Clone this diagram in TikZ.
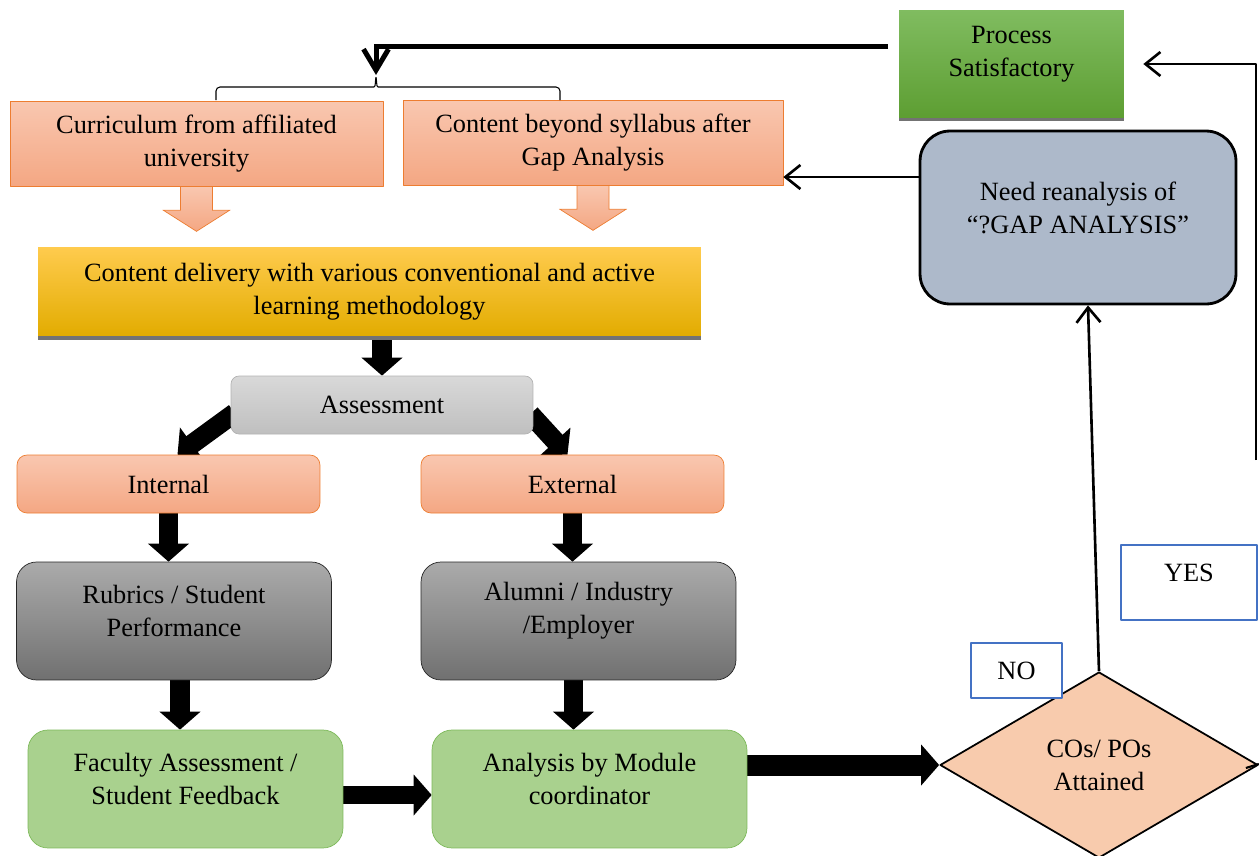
\documentclass[tikz,border=0pt]{standalone}
\usepackage{fontspec}
\setmainfont{Liberation Serif}
\usetikzlibrary{shapes.geometric,arrows.meta,calc,shadows,backgrounds}
\definecolor{orline}{HTML}{ED7D31}
\definecolor{ortop}{HTML}{F9C7B0}
\definecolor{orbot}{HTML}{F4A783}
\definecolor{yeltop}{HTML}{FFCB4E}
\definecolor{yelbot}{HTML}{E2AC00}
\definecolor{grntop}{HTML}{80BC60}
\definecolor{grnbot}{HTML}{5D9E32}
\definecolor{lgrn}{HTML}{A9D18E}
\definecolor{lgrnline}{HTML}{7DB95A}
\definecolor{bluegrey}{HTML}{ADB9CA}
\definecolor{peach}{HTML}{F8CBAD}
\definecolor{boxblue}{HTML}{4472C4}
\begin{document}
\begin{tikzpicture}[x=0.02cm,y=-0.02cm,line join=round,font=\fontsize{15}{18.8}\selectfont,
    orbox/.style={draw=orline,top color=ortop,bottom color=orbot,minimum height=1.7cm,align=center},
    orround/.style={orbox,rounded corners=0.2cm,minimum width=6.06cm,minimum height=1.16cm},
    darkbox/.style={draw=black!85,top color=black!33,bottom color=black!56,rounded corners=0.4cm,minimum width=6.3cm,minimum height=2.36cm},
    greenbox/.style={draw=lgrnline,fill=lgrn,rounded corners=0.4cm,minimum width=6.3cm,minimum height=2.36cm},
    tagbox/.style={draw=boxblue,line width=1.2pt,fill=white},
    txt/.style={label={[align=center,yshift=0.2cm]center:#1}},
    blk/.style={line width=0.39cm,-{Triangle[width=0.8cm,length=0.36cm]}},
    thinarr/.style={line width=1.5pt,-{Straight Barb[length=0.3cm,width=0.48cm]}},
    orarr/.style={draw=orline,top color=ortop,bottom color=orbot}]
\useasboundingbox (0,0) rectangle (1259,856);
% top row
\node[top color=grntop,bottom color=grnbot,minimum width=4.5cm,minimum height=2.16cm,
  drop shadow={shadow xshift=0cm,shadow yshift=-0.07cm,fill=black!55,opacity=1},
  txt={Process\\Satisfactory}] (proc) at (1011.5,64) {};
\node[orbox,minimum width=7.46cm] (curr) at (196.5,143.5) {Curriculum from affiliated\\university};
\node[orbox,minimum width=7.6cm] (beyond) at (593,142.5) {Content beyond syllabus after\\Gap Analysis};
\node[draw=black,line width=1.6pt,fill=bluegrey,rounded corners=0.6cm,minimum width=6.32cm,minimum height=3.46cm,
  txt={Need reanalysis of\\``?GAP ANALYSIS''}] (need) at (1078,217.5) {};
% delivery and assessment
\node[top color=yeltop,bottom color=yelbot,minimum width=13.26cm,minimum height=1.78cm,align=center,
  drop shadow={shadow xshift=0cm,shadow yshift=-0.08cm,fill=black!55,opacity=1}] (deliv) at (369.5,291.5)
  {Content delivery with various conventional and active\\learning methodology};
\node[draw=black!30,top color=black!15,bottom color=black!25,rounded corners=0.16cm,minimum width=6.04cm,minimum height=1.16cm] (assess) at (382,405) {Assessment};
\node[orround] (intern) at (168.5,484) {Internal};
\node[orround] (extern) at (572.5,484) {External};
\node[darkbox,txt={Rubrics / Student\\Performance}] (rubric) at (174,621) {};
\node[darkbox,txt={Alumni / Industry\\/Employer}] (alumni) at (578.5,621) {};
\node[greenbox,txt={Faculty Assessment /\\Student Feedback}] (fac) at (185.5,789) {};
\node[greenbox,txt={Analysis by Module\\coordinator}] (anal) at (589.5,789) {};
% decision
\node[diamond,draw=black,line width=1pt,fill=peach,minimum width=6.36cm,minimum height=3.72cm,inner sep=0pt,align=center] (diam) at (1099,765) {COs/ POs\\Attained};
\node[tagbox,minimum width=1.82cm,minimum height=1.1cm] (no) at (1016.5,670.5) {NO};
\node[tagbox,minimum width=2.72cm,minimum height=1.5cm,txt={YES}] (yes) at (1189,582.5) {};
% brace under the feedback arrow
\coordinate (brtip) at (376,75);
\draw[line width=0.6pt,rounded corners=0.08cm] (216,100) -- (216,87) -- (370,87)
  .. controls (375,87) .. (brtip) .. controls (377,87) .. (382,87) -- (560,87) -- (560,100);
\coordinate (tl) at (888,46);
\coordinate (rb) at (1256,460);
\begin{pgfonlayer}{background}
\draw[line width=0.1cm,-{Straight Barb[length=0.42cm,width=0.5cm]}] (tl) -- (tl -| brtip) -- (brtip);
\foreach \b in {curr,beyond}
  \draw[orarr] ($(\b.south)+(-16,0)$) -- ++(0,24) -- ++(-17,0) -- ++(33,21) -- ++(33,-21) -- ++(-17,0) -- ++(0,-24);
\draw[blk] (assess.north |- deliv.south) -- (assess.north);
\draw[blk] ([xshift=0.08cm,yshift=-0.16cm]assess.west) -- ([xshift=0.18cm]intern.north);
\draw[blk] ([xshift=-0.06cm,yshift=-0.18cm]assess.east) -- ([xshift=-0.1cm]extern.north);
\draw[blk] (intern.south) -- (intern.south |- rubric.north);
\draw[blk] (extern.south) -- (extern.south |- alumni.north);
\draw[blk] ([xshift=0.12cm]rubric.south) -- ([xshift=0.12cm]rubric.south |- fac.north);
\draw[blk] ([xshift=-0.1cm]alumni.south) -- ([xshift=-0.1cm]alumni.south |- anal.north);
\draw[blk,line width=0.36cm] ([yshift=-0.12cm]fac.east) -- ([yshift=-0.12cm]anal.west);
\draw[blk,line width=0.42cm] (diam.west -| anal.east) -- (diam.west);
\end{pgfonlayer}
% thin connectors
\path ([yshift=0.81cm]need.west) coordinate (nw);
\draw[thinarr] (nw) -- (nw -| beyond.east);
\draw[thinarr] (diam.north) -- ([xshift=0.2cm]need.south);
\draw[thinarr,shorten >=0.38cm] (rb) |- (proc.east);
\draw[line width=1.2pt] ([xshift=-0.26cm,yshift=-0.06cm]diam.east) -- ([yshift=0.02cm]diam.east);
\end{tikzpicture}
\end{document}
